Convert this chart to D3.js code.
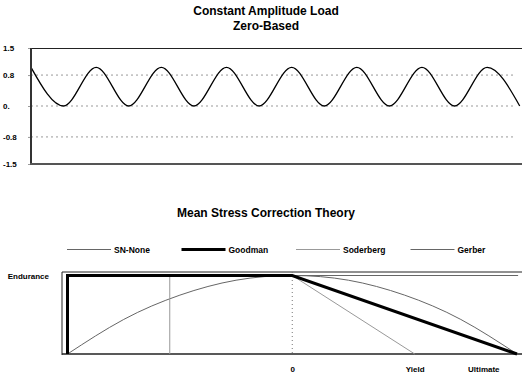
<!DOCTYPE html>
<html>
<head>
<meta charset="utf-8">
<script src="https://cdn.jsdelivr.net/npm/d3@7"></script>
<style>
  body { margin: 0; background: #fff; }
  svg { display: block; font-family: Arial, 'Liberation Sans', sans-serif; }
</style>
</head>
<body>
<svg id="chart" width="522" height="378"></svg>
<script>
// load history, one point per half cycle (peaks and valleys)
const loadHalfCycles = [0, 1, 2, 3, 4, 5, 6, 7, 8, 9, 10, 11, 12, 13, 14, 15];
const loadValues = [1, 0, 1, 0, 1, 0, 1, 0, 1, 0, 1, 0, 1, 0, 1, 0];
const loadTickValues = [1.5, 0.8, 0, -0.8, -1.5];
const loadTickLabels = ['1.5', '0.8', '0.', '-0.8', '-1.5'];
const loadGridValues = [0.8, 0, -0.8];

// mean stress (as fraction of ultimate) vs allowed amplitude (as fraction of endurance)
const theoryNames = ['SN-None', 'Goodman', 'Soderberg', 'Gerber'];
const snNoneMean = [-1, 1.005];
const snNoneAmp = [1, 1];
const goodmanMean = [-1, -1, 0, 1];
const goodmanAmp = [0, 1, 1, 0];
const soderbergMean = [-0.545, -0.545, 0, 0.545];
const soderbergAmp = [0, 1, 1, 0];
const gerberMean = [-1, -0.75, -0.5, -0.25, 0, 0.25, 0.5, 0.75, 1];
const gerberAmp = [0, 0.44, 0.75, 0.94, 1, 0.94, 0.75, 0.44, 0];
const meanMarker = [0];
const xTickValues = [0, 0.545, 0.85];
const xTickLabels = ['0', 'Yield', 'Ultimate'];

const svg = d3.select('#chart');
const zip = (xs, ys) => xs.map((x, i) => ({ x, y: ys[i] }));

const styles = {
  'SN-None': { stroke: '#666', width: 1 },
  Goodman: { stroke: '#000', width: 3 },
  Soderberg: { stroke: '#999', width: 1 },
  Gerber: { stroke: '#666', width: 1 },
};

function title(text, y) {
  svg.append('text')
    .attr('x', 266).attr('y', y)
    .attr('text-anchor', 'middle')
    .style('font-size', '12px').style('font-weight', 'bold')
    .text(text);
}

// ---------- top chart ----------
title('Constant Amplitude Load', 15);
title('Zero-Based', 30);

const x1 = d3.scaleLinear().domain([0, 15.07]).range([31, 522]);
const y1 = d3.scaleLinear().domain([-1.5, 1.5]).range([164, 48]);

svg.append('g')
  .selectAll('line')
  .data(loadGridValues)
  .enter()
  .append('line')
  .attr('x1', 31).attr('x2', 516)
  .attr('y1', (d) => y1(d)).attr('y2', (d) => y1(d))
  .attr('stroke', '#999')
  .attr('stroke-dasharray', '2,3');

const gy1 = svg.append('g').attr('transform', 'translate(31,0)')
  .call(d3.axisLeft(y1).tickValues(loadTickValues).tickSize(3).tickFormat((d, i) => loadTickLabels[i]));
gy1.select('.domain').remove();
gy1.selectAll('.tick line').attr('stroke', '#999');
gy1.selectAll('.tick text')
  .attr('text-anchor', 'start').attr('x', -28)
  .style('font-size', '8px').style('font-weight', 'bold').attr('fill', '#000');

svg.append('path')
  .datum(zip(loadHalfCycles, loadValues))
  .attr('fill', 'none')
  .attr('stroke', '#000')
  .attr('stroke-width', 1.3)
  .attr('d', d3.line().x((d) => x1(d.x)).y((d) => y1(d.y)).curve(d3.curveMonotoneX));

// frame
svg.append('line').attr('x1', 31).attr('x2', 522).attr('y1', 48.5).attr('y2', 48.5).attr('stroke', '#222');
svg.append('line').attr('x1', 31).attr('x2', 31).attr('y1', 48).attr('y2', 165).attr('stroke', '#333').attr('stroke-width', 2);
svg.append('line').attr('x1', 30).attr('x2', 522).attr('y1', 164).attr('y2', 164).attr('stroke', '#555').attr('stroke-width', 2);

// ---------- bottom chart ----------
title('Mean Stress Correction Theory', 217);

const x2 = d3.scaleLinear().domain([-1, 1]).range([67.5, 517]);
const y2 = d3.scaleLinear().domain([0, 1]).range([354, 275.5]);

// legend
const legend = svg.append('g')
  .selectAll('g')
  .data(theoryNames)
  .enter()
  .append('g')
  .attr('transform', (d, i) => `translate(${67 + i * 114.5}, 249.5)`);
legend.append('line')
  .attr('x1', 0).attr('x2', 44)
  .attr('stroke', (d) => styles[d].stroke)
  .attr('stroke-width', (d) => styles[d].width);
legend.append('text')
  .attr('x', 47).attr('y', 3)
  .style('font-size', '8.5px').style('font-weight', 'bold')
  .text((d) => d);

// frame
svg.append('line').attr('x1', 62).attr('x2', 522).attr('y1', 272).attr('y2', 272).attr('stroke', '#222');
svg.append('line').attr('x1', 62).attr('x2', 62).attr('y1', 272).attr('y2', 355).attr('stroke', '#222');
svg.append('line').attr('x1', 62).attr('x2', 522).attr('y1', 354).attr('y2', 354).attr('stroke', '#222').attr('stroke-width', 1.5);

svg.append('g')
  .selectAll('line')
  .data(meanMarker)
  .enter()
  .append('line')
  .attr('x1', (d) => x2(d)).attr('x2', (d) => x2(d))
  .attr('y1', 272).attr('y2', 354)
  .attr('stroke', '#777')
  .attr('stroke-dasharray', '1,3');

const theories = [
  { name: 'SN-None', points: zip(snNoneMean, snNoneAmp), curve: d3.curveLinear },
  { name: 'Gerber', points: zip(gerberMean, gerberAmp), curve: d3.curveNatural },
  { name: 'Soderberg', points: zip(soderbergMean, soderbergAmp), curve: d3.curveLinear },
  { name: 'Goodman', points: zip(goodmanMean, goodmanAmp), curve: d3.curveLinear },
];
svg.append('g')
  .selectAll('path')
  .data(theories)
  .enter()
  .append('path')
  .attr('fill', 'none')
  .attr('stroke', (d) => styles[d.name].stroke)
  .attr('stroke-width', (d) => styles[d.name].width)
  .attr('d', (d) => d3.line().x((p) => x2(p.x)).y((p) => y2(p.y)).curve(d.curve)(d.points));

// axes labels
const gy2 = svg.append('g').attr('transform', 'translate(62,0)')
  .call(d3.axisLeft(y2).tickValues([1]).tickSize(0).tickPadding(13).tickFormat(() => 'Endurance'));
gy2.select('.domain').remove();
gy2.selectAll('.tick text').style('font-size', '8px').style('font-weight', 'bold').attr('fill', '#000');

const gx2 = svg.append('g').attr('transform', 'translate(0,354)')
  .call(d3.axisBottom(x2).tickValues(xTickValues).tickSize(0).tickPadding(12).tickFormat((d, i) => xTickLabels[i]));
gx2.select('.domain').remove();
gx2.selectAll('.tick text').style('font-size', '8px').style('font-weight', 'bold').attr('fill', '#000');
</script>
</body>
</html>
